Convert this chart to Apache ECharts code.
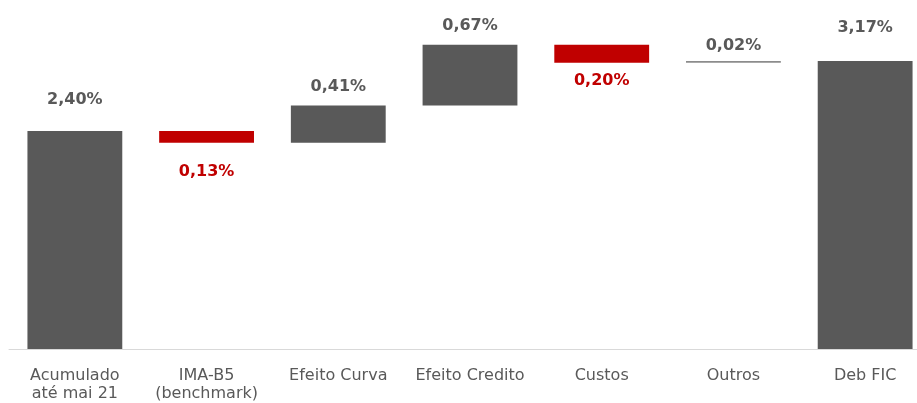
<!DOCTYPE html>
<html>
<head>
<meta charset="utf-8">
<script src="https://cdn.jsdelivr.net/npm/echarts@6/dist/echarts.min.js"></script>
<style>
  html, body { margin: 0; padding: 0; background: #fff; overflow: hidden; }
  #chart { width: 931px; height: 403px; }
</style>
</head>
<body>
<div id="chart"></div>
<script>
// categorias e valores (%)
const categories = ['Acumulado\naté mai 21', 'IMA-B5\n(benchmark)', 'Efeito Curva', 'Efeito Credito', 'Custos', 'Outros', 'Deb FIC']
const deltas = [2.40, -0.13, 0.41, 0.67, -0.20, 0.02, 3.17]
const isTotal = [true, false, false, false, false, false, true]

const gray = '#595959'
const red = '#C00000'

// base invisivel do waterfall
let running = 0
const baseData = []
const barData = []
deltas.forEach((d, i) => {
  if (isTotal[i]) {
    baseData.push(0)
    barData.push(d)
    running = d
  } else {
    const start = d >= 0 ? running : running + d
    baseData.push(start)
    barData.push(Math.abs(d))
    running += d
  }
})

const fmt = (v) => Math.abs(v).toFixed(2).replace('.', ',') + '%'
const labelDist = [23, 21, 11, 11, 10, 7, 25]

const myEchart = echarts.init(document.getElementById('chart'))
const options = {
  animation: false,
  grid: { top: 31, bottom: 51, left: 9, right: 0 },
  xAxis: {
    type: 'category',
    data: categories,
    axisLine: { lineStyle: { color: '#d9d9d9', width: 1 } },
    axisTick: { show: false },
    axisLabel: {
      interval: 0,
      margin: 18,
      color: gray,
      fontSize: 16,
      lineHeight: 18,
      fontFamily: 'DejaVu Sans'
    }
  },
  yAxis: {
    type: 'value',
    min: 0,
    max: 3.5,
    show: false,
    splitLine: { show: false }
  },
  series: [
    {
      type: 'bar',
      stack: 'w',
      barWidth: '72%',
      itemStyle: { color: 'transparent' },
      silent: true,
      data: baseData
    },
    {
      type: 'bar',
      stack: 'w',
      barWidth: '72%',
      data: barData.map((v, i) => {
        const neg = deltas[i] < 0
        const thin = categories[i] === 'Outros'
        return {
          value: v,
          itemStyle: { color: neg ? red : (thin ? '#8c8c8c' : gray) },
          label: {
            show: true,
            position: neg ? 'bottom' : 'top',
            distance: labelDist[i],
            formatter: fmt(deltas[i]),
            color: neg ? red : gray,
            fontSize: 16,
            fontWeight: 'bold',
            fontFamily: 'DejaVu Sans'
          }
        }
      })
    }
  ]
}
myEchart.setOption(options)
</script>
</body>
</html>
